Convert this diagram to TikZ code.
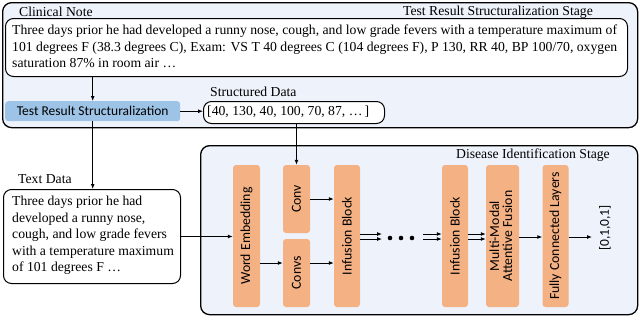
\documentclass[tikz,border=0pt]{standalone}
\usepackage{fontspec}
\setmainfont{Liberation Serif}
\newfontfamily\boxfont{Carlito}
\usetikzlibrary{arrows.meta}
\definecolor{stagebg}{HTML}{EEF2FA}
\definecolor{layerfill}{HTML}{F4B183}
\definecolor{trsfill}{HTML}{9DC3E6}
\tikzset{
  stagebox/.style={draw=black, line width=1.3pt, rounded corners=9pt, fill=stagebg, anchor=north west, inner sep=0pt},
  textbox/.style={draw=black, line width=1pt, rounded corners=8pt, fill=white, anchor=north west, inner sep=0pt},
  layer/.style={fill=layerfill, rounded corners=3pt, inner sep=0pt, font=\boxfont\fontsize{13.8}{15}\selectfont},
  serif13/.style={font=\fontsize{13.7}{16.5}\selectfont, inner sep=0pt},
  arr/.style={line width=0.9pt, -{Latex[length=5pt,width=4pt]}},
}
\begin{document}
\begin{tikzpicture}[x=1pt,y=-1pt]
\useasboundingbox (0,0) rectangle (640,317);
% stages
\node[stagebox, minimum width=635pt, minimum height=125pt] (top) at (2,2) {};
\node[stagebox, minimum width=437pt, minimum height=169pt] (bot) at (200,145) {};
% labels
\node[serif13, anchor=west] (lcn) at (19,12) {Clinical Note};
\node[serif13, anchor=east] (ltop) at (593,12) {Test Result Structuralization Stage};
\node[serif13, anchor=west] (lsd) at (210,92) {Structured Data};
\node[serif13, anchor=west] (ltd) at (18,179) {Text Data};
\node[serif13, anchor=east] (lbot) at (610,155) {Disease Identification Stage};
% clinical note
\node[textbox, minimum width=622pt, minimum height=58pt] (cn) at (5,18) {};
\node[serif13, anchor=north west, align=left] (cnt) at (12,25) {Three days prior he had developed a runny nose, cough, and low grade fevers with a temperature maximum of\\101 degrees F (38.3 degrees C), Exam: VS T 40 degrees C (104 degrees F), P 130, RR 40, BP 100/70, oxygen\\saturation 87\% in room air \dots};
% TRS
\node[fill=trsfill, rounded corners=3pt, minimum width=175pt, minimum height=20pt, inner sep=0pt, anchor=north west, font=\boxfont\fontsize{13.5}{15}\selectfont] (trs) at (5,101) {Test Result Structuralization};
% structured data
\node[textbox, minimum width=181pt, minimum height=22pt] (sd) at (203,101) {};
\node[serif13, anchor=west] (sdt) at (207,112) {[40, 130, 40, 100, 70, 87, \dots\,]};
% text data
\node[textbox, minimum width=177pt, minimum height=94pt] (td) at (3,189) {};
\node[serif13, anchor=north west, align=left] (tdt) at (12,196) {Three days prior he had\\developed a runny nose,\\cough, and low grade fevers\\with a temperature maximum\\of 101 degrees F \dots};
% layers
\node[layer, minimum width=27pt, minimum height=142pt] (we) at (246.5,236) {\rotatebox{90}{Word Embedding}};
\node[layer, minimum width=27pt, minimum height=68pt] (conv) at (296.5,199) {\rotatebox{90}{Conv}};
\node[layer, minimum width=27pt, minimum height=68pt] (convs) at (296.5,273) {\rotatebox{90}{Convs}};
\node[layer, minimum width=26pt, minimum height=142pt] (inf1) at (347,236) {\rotatebox{90}{Infusion Block}};
\node[layer, minimum width=26pt, minimum height=142pt] (inf2) at (455,236) {\rotatebox{90}{Infusion Block}};
\node[layer, minimum width=33pt, minimum height=142pt] (mmaf) at (502.5,236) {\rotatebox{90}{\begin{tabular}{@{}c@{}}Multi-Modal\\[-2pt]Attentive Fusion\end{tabular}}};
\node[layer, minimum width=26pt, minimum height=142pt] (fcl) at (555.5,236) {\rotatebox{90}{Fully Connected Layers}};
\node[font=\boxfont\fontsize{13.5}{15}\selectfont, inner sep=0pt] (res) at (605,228) {\rotatebox{90}{[0,1,0,1]}};
% connectors
\draw[arr] (trs.north |- cn.south) -- (trs.north);
\draw[arr] (trs.east) -- (trs.east -| sd.west);
\draw[arr] (trs.south) -- (trs.south |- td.north);
\draw[arr] (conv.north |- sd.south) -- (conv.north);
\draw[arr] (td.east) -- (td.east -| we.west);
\coordinate (r2) at (0,263);
\draw[arr] (we.east |- r2) -- (convs.west |- r2);
\draw[arr] (convs.east |- r2) -- (inf1.west |- r2);
\draw[arr] (conv.east) -- (conv.east -| inf1.west);
\coordinate (ua) at (382,234);
\coordinate (ub) at (382,239);
\coordinate (va) at (423,234);
\coordinate (vb) at (423,239);
\draw[arr] (inf1.east |- ua) -- (ua);
\draw[arr] (inf1.east |- ub) -- (ub);
\draw[arr] (va) -- (va -| inf2.west);
\draw[arr] (vb) -- (vb -| inf2.west);
\draw[arr] (inf2.east |- ua) -- (mmaf.west |- ua);
\draw[arr] (inf2.east |- ub) -- (mmaf.west |- ub);
\fill (390,238) circle (2.3pt) (401,238) circle (2.3pt) (412,238) circle (2.3pt);
\coordinate (r3) at (0,237);
\draw[arr] (mmaf.east |- r3) -- (fcl.west |- r3);
\coordinate (rend) at (592,237);
\draw[arr] (fcl.east |- r3) -- (rend);
\end{tikzpicture}
\end{document}
